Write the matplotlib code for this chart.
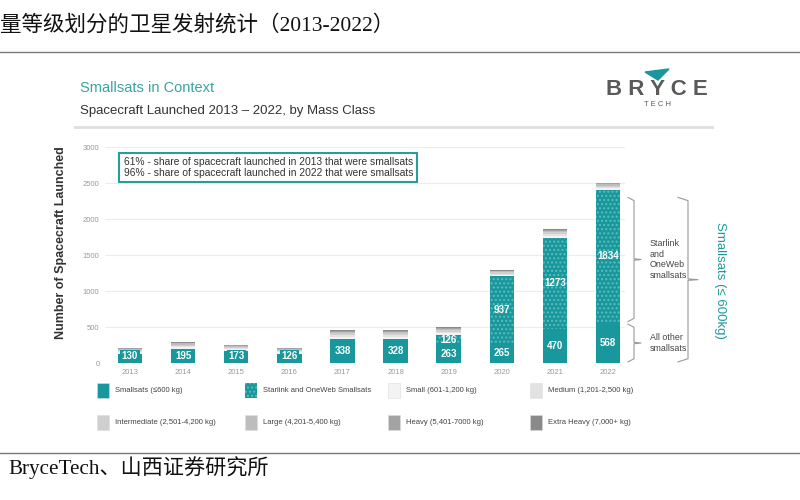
import matplotlib
matplotlib.use("Agg")
import matplotlib.pyplot as plt
import numpy as np
from matplotlib.patches import Rectangle, Polygon
from matplotlib.lines import Line2D
import matplotlib.transforms as mtransforms

# ---------------- data ----------------
years = ['2013', '2014', '2015', '2016', '2017', '2018', '2019', '2020', '2021', '2022']
smallsats = [130, 195, 173, 126, 338, 328, 263, 265, 470, 568]
starlink_oneweb = [0, 0, 0, 0, 0, 0, 126, 937, 1273, 1834]
small_601_1200 = [20, 22, 18, 20, 28, 30, 25, 20, 27, 23]
medium_1201_2500 = [15, 18, 14, 15, 22, 24, 20, 16, 21, 18]
intermediate_2501_4200 = [18, 20, 17, 18, 26, 28, 24, 19, 25, 22]
large_4201_5400 = [14, 17, 13, 14, 20, 22, 19, 15, 20, 17]
heavy_5401_7000 = [10, 12, 9, 9, 14, 15, 13, 10, 14, 12]
extra_heavy_7000 = [6, 8, 6, 6, 10, 11, 10, 8, 10, 8]
y_ticks = [0, 500, 1000, 1500, 2000, 2500, 3000]

legend_labels = ['Smallsats (≤600 kg)', 'Starlink and OneWeb Smallsats', 'Small (601-1,200 kg)',
                 'Medium (1,201-2,500 kg)', 'Intermediate (2,501-4,200 kg)', 'Large (4,201-5,400 kg)',
                 'Heavy (5,401-7000 kg)', 'Extra Heavy (7,000+ kg)']

TEAL = '#18979c'
DOT = '#5cbcbd'
grays = ['#f3f3f3', '#e2e2e2', '#cfcfcf', '#bdbdbd', '#a3a3a3', '#8a8a8a']
CHART_FONT = ['Liberation Sans', 'DejaVu Sans']

W, H = 800, 500
fig = plt.figure(figsize=(8, 5), dpi=100)
fig.patch.set_facecolor('white')


def fx(px):
    return px / W


def fy(py):
    return 1 - py / H


# ---------------- page frame ----------------
fig.text(fx(0), fy(25), '量等级划分的卫星发射统计（2013-2022）', fontsize=15.5,
         family=['Liberation Serif', 'Noto Sans CJK SC'], va='center', ha='left', color='#111111')
fig.add_artist(Line2D([0, 1], [fy(52), fy(52)], color='#7a7a7a', lw=1.0))
fig.add_artist(Line2D([0, 1], [fy(453), fy(453)], color='#7a7a7a', lw=1.0))
fig.text(fx(8), fy(468), 'BryceTech、山西证券研究所', fontsize=15.2,
         family=['Liberation Serif', 'Noto Sans CJK SC'], va='center', ha='left', color='#111111')

# ---------------- slide header ----------------
fig.text(fx(80), fy(88), 'Smallsats in Context', fontsize=10.5, family=CHART_FONT,
         color='#3aa3a3', va='center', ha='left')
fig.text(fx(80), fy(111), 'Spacecraft Launched 2013 – 2022, by Mass Class', fontsize=9.5,
         family=CHART_FONT, color='#333333', va='center', ha='left')
fig.add_artist(Line2D([fx(75), fx(712)], [fy(127), fy(127)], color='#dedede', lw=2.0))

# logo
fig.text(fx(657), fy(90), 'B R Y C E', fontsize=16, family=CHART_FONT, color='#5a5a5a',
         va='center', ha='center', weight='bold')
fig.text(fx(657), fy(104), 'T E C H', fontsize=5.5, family=CHART_FONT, color='#5a5a5a',
         va='center', ha='center')
fig.add_artist(Polygon([[fx(645), fy(72)], [fx(669), fy(69)], [fx(658), fy(80)]],
                       closed=True, color=TEAL, transform=fig.transFigure))

# ---------------- axes ----------------
ax_l, ax_r, ax_b, ax_t = 105, 625, 363, 147
ax = fig.add_axes([fx(ax_l), fy(ax_b), (ax_r - ax_l) / W, (ax_b - ax_t) / H])
x = np.arange(len(years))
bw = 0.46

ax.bar(x, smallsats, bw, color=TEAL, linewidth=0, zorder=3)
ax.bar(x, starlink_oneweb, bw, bottom=smallsats, color=TEAL, edgecolor=DOT,
       hatch='....', linewidth=0, zorder=3)
bottom = np.array(smallsats) + np.array(starlink_oneweb)
for vals, c in zip([small_601_1200, medium_1201_2500, intermediate_2501_4200,
                    large_4201_5400, heavy_5401_7000, extra_heavy_7000], grays):
    ax.bar(x, vals, bw, bottom=bottom, color=c, linewidth=0, zorder=3)
    bottom = bottom + np.array(vals)

# value labels
for i in range(len(years)):
    ys = max(smallsats[i] / 2, 95)
    ax.text(x[i], ys, str(smallsats[i]), color='white', fontsize=7, weight='bold',
            ha='center', va='center', family=CHART_FONT, zorder=5,
            bbox=dict(boxstyle='square,pad=0.15', fc=TEAL, ec='none'))
    if starlink_oneweb[i] > 0:
        ysl = smallsats[i] + starlink_oneweb[i] / 2
        ax.text(x[i], ysl, str(starlink_oneweb[i]), color='white', fontsize=7, weight='bold',
                ha='center', va='center', family=CHART_FONT, zorder=5)

ax.set_ylim(0, 3000)
ax.set_xlim(-0.47, 9.32)
ax.set_yticks(y_ticks)
ax.set_yticklabels([str(t) for t in y_ticks], fontsize=5.5, color='#9a9a9a', family=CHART_FONT)
ax.set_xticks(x)
ax.set_xticklabels(years, fontsize=5.5, color='#9a9a9a', family=CHART_FONT)
ax.tick_params(length=0, pad=4)
ax.grid(axis='y', color='#ececec', lw=0.8, zorder=0)
for s in ax.spines.values():
    s.set_visible(False)
ax.set_ylabel('Number of Spacecraft Launched', fontsize=9, color='#333333',
              family=CHART_FONT, weight='bold')
ax.yaxis.set_label_coords(axfx_l := (67 - ax_l) / (ax_r - ax_l), (ax_b - 243) / (ax_b - ax_t))

# annotation box
ax.text(-0.12, 2715, '61% - share of spacecraft launched in 2013 that were smallsats\n'
        '96% - share of spacecraft launched in 2022 that were smallsats',
        fontsize=7.4, color='#333333', family=CHART_FONT, va='center', ha='left', zorder=6,
        linespacing=1.12,
        bbox=dict(boxstyle='square,pad=0.4', fc='white', ec='#2a9d9a', lw=1.5))

# braces (x in axes fraction, y in data)
trans = mtransforms.blended_transform_factory(ax.transAxes, ax.transData)


def axfx(px):
    return (px - ax_l) / (ax_r - ax_l)


def brace(px, top, bot, hook=6, tick=7, col='#9a9a9a'):
    x0 = axfx(px)
    xl = axfx(px - hook)
    xr = axfx(px + tick)
    mid = (top + bot) / 2
    r = 45
    pts_x = [xl, x0, x0, xr, x0, x0, xl]
    pts_y = [top, top - r, mid + 10, mid, mid - 10, bot + r, bot]
    ax.add_line(Line2D(pts_x, pts_y, transform=trans, color=col, lw=0.8, clip_on=False))
    return mid


m1 = brace(634, 2300, 575)
ax.text(axfx(650), m1, 'Starlink\nand\nOneWeb\nsmallsats', transform=trans, fontsize=6.4,
        color='#444444', family=CHART_FONT, va='center', ha='left', linespacing=1.2)
m2 = brace(634, 540, 15)
ax.text(axfx(650), m2, 'All other\nsmallsats', transform=trans, fontsize=6.4,
        color='#444444', family=CHART_FONT, va='center', ha='left', linespacing=1.2)
m3 = brace(688, 2300, 15, hook=10, tick=10)
ax.text(axfx(720), 1150, 'Smallsats (≤ 600kg)', transform=trans, fontsize=9.5,
        color='#1f9a9d', family=CHART_FONT, va='center', ha='center', rotation=-90)

# ---------------- legend ----------------
cols = [97, 245, 388, 530]
rows = [391, 423]
faces = [TEAL, TEAL] + grays
for k, lab in enumerate(legend_labels):
    cx = cols[k % 4]
    cy = rows[k // 4]
    rect = Rectangle((fx(cx), fy(cy + 7)), 12 / W, 15 / H, transform=fig.transFigure,
                     facecolor=faces[k], edgecolor=DOT if k == 1 else '#dddddd',
                     hatch='....' if k == 1 else None, lw=0 if k == 1 else 0.4)
    fig.add_artist(rect)
    fig.text(fx(cx + 18), fy(cy), lab, fontsize=5.5, color='#444444', family=CHART_FONT,
             va='center', ha='left')

fig.savefig('out.png', dpi=100, facecolor='white')
